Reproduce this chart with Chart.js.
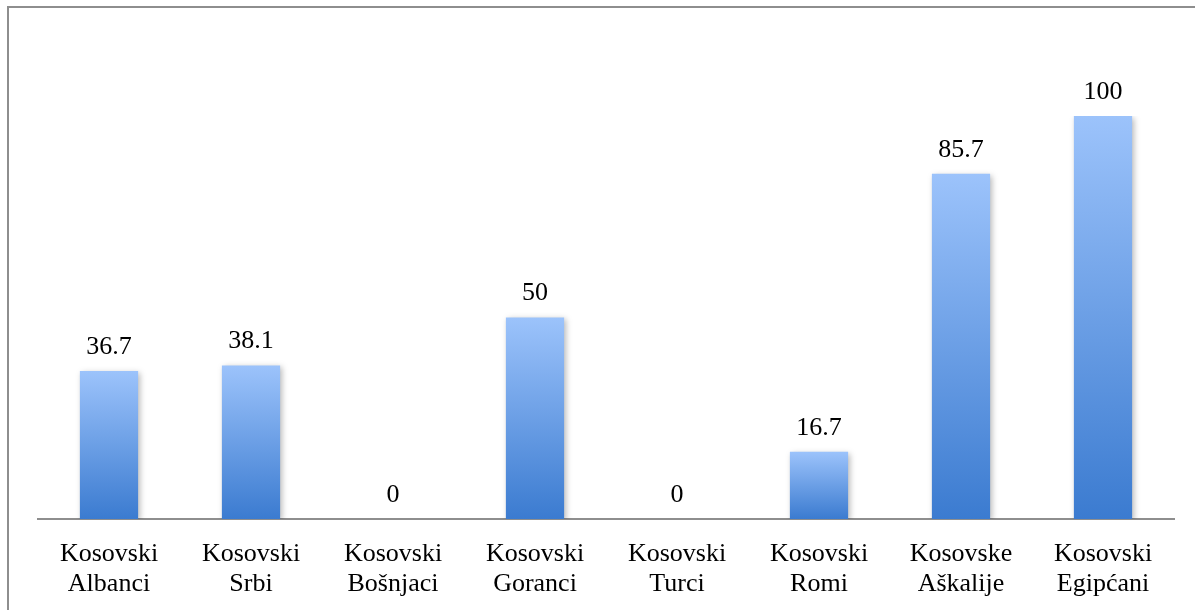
<!DOCTYPE html>
<html>
<head>
<meta charset="utf-8">
<script src="https://cdn.jsdelivr.net/npm/chart.js@4/dist/chart.umd.min.js"></script>
<style>
  html, body { margin: 0; padding: 0; background: #fff; overflow: hidden; }
  #wrap { position: relative; width: 1195px; height: 610px; overflow: hidden; }
  #frame { position: absolute; left: 7px; top: 6px; width: 1300px; height: 700px;
           border-left: 2px solid #8e8e8e; border-top: 2px solid #8e8e8e; pointer-events: none; }
</style>
</head>
<body>
<div id="wrap">
  <canvas id="BarChart" width="1195" height="632"></canvas>
  <div id="frame"></div>
</div>
<script>
const labels_Bar = [
    ['Kosovski', 'Albanci'],
    ['Kosovski', 'Srbi'],
    ['Kosovski', 'Bošnjaci'],
    ['Kosovski', 'Goranci'],
    ['Kosovski', 'Turci'],
    ['Kosovski', 'Romi'],
    ['Kosovske', 'Aškalije'],
    ['Kosovski', 'Egipćani']
];

const values_Bar = [36.7, 38.1, 0, 50, 0, 16.7, 85.7, 100];

const fontFamily = '"Liberation Serif", "Times New Roman", serif';

// vertical gradient for each bar, light at the top, dark at the base
function barGradient(context) {
    const chart = context.chart;
    const area = chart.chartArea;
    if (!area) return '#6a9fe6';
    const yScale = chart.scales.y;
    const v = context.raw || 0;
    const top = yScale.getPixelForValue(v);
    const bottom = yScale.getPixelForValue(0);
    if (bottom - top < 1) return '#6a9fe6';
    const g = chart.ctx.createLinearGradient(0, top, 0, bottom);
    g.addColorStop(0, '#9cc3fb');
    g.addColorStop(1, '#3b7bd0');
    return g;
}

const shadowPlugin = {
    id: 'barShadow',
    beforeDatasetsDraw(chart) {
        const ctx = chart.ctx;
        ctx.save();
        ctx.shadowColor = 'rgba(0, 0, 0, 0.28)';
        ctx.shadowBlur = 6;
        ctx.shadowOffsetX = 2;
        ctx.shadowOffsetY = 2;
    },
    afterDatasetsDraw(chart) {
        chart.ctx.restore();
    }
};

const valueLabels = {
    id: 'valueLabels',
    afterDatasetsDraw(chart) {
        const ctx = chart.ctx;
        const meta = chart.getDatasetMeta(0);
        ctx.save();
        ctx.font = '26px ' + fontFamily;
        ctx.fillStyle = '#000';
        ctx.textAlign = 'center';
        ctx.textBaseline = 'alphabetic';
        meta.data.forEach((bar, i) => {
            ctx.fillText(String(values_Bar[i]), bar.x, bar.y - 17);
        });
        ctx.restore();
    }
};

const data_Bar = {
    labels: labels_Bar,
    datasets: [{
        data: values_Bar,
        backgroundColor: barGradient,
        borderWidth: 0,
        categoryPercentage: 1.0,
        barPercentage: 0.41
    }]
};

const config_Bar = {
    type: 'bar',
    data: data_Bar,
    plugins: [shadowPlugin, valueLabels],
    options: {
        responsive: false,
        animation: false,
        layout: {
            padding: { left: 38, right: 21, top: 116, bottom: 13 }
        },
        scales: {
            y: {
                display: false,
                min: 0,
                max: 100
            },
            x: {
                grid: { display: false, drawTicks: false },
                border: { display: true, color: '#8e8e8e', width: 2 },
                ticks: {
                    color: '#000',
                    padding: 20,
                    maxRotation: 0,
                    autoSkip: false,
                    font: { family: fontFamily, size: 26, lineHeight: 1.154 }
                }
            }
        },
        plugins: {
            legend: { display: false },
            tooltip: { enabled: false },
            title: { display: false }
        }
    }
};

const myChart_Bar = new Chart(
    document.getElementById('BarChart'),
    config_Bar
);
</script>
</body>
</html>
